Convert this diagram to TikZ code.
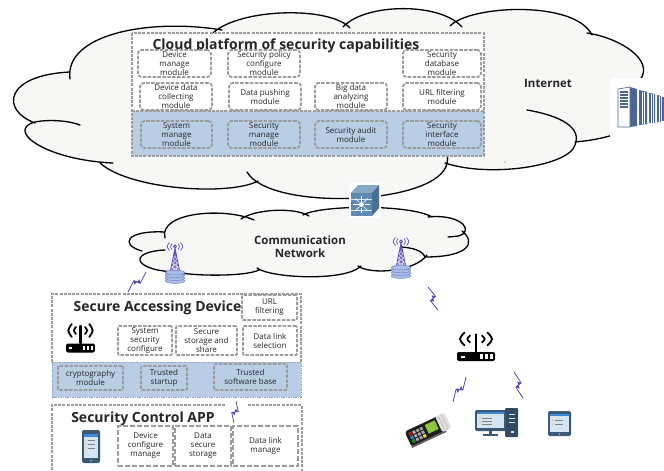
\documentclass[tikz,border=0pt]{standalone}
\usepackage{fontspec}
\setmainfont{Open Sans}
\usetikzlibrary{calc}

\definecolor{cloudfill}{HTML}{F7F7F5}
\definecolor{bandblue}{HTML}{B9CDE5}
\definecolor{bandedge}{HTML}{8FA7CC}
\definecolor{modgray}{HTML}{9C9C9C}
\definecolor{ink}{HTML}{262626}
\definecolor{towerpurple}{HTML}{5B4DB5}
\definecolor{diskblue}{HTML}{A9BDE8}
\definecolor{diskedge}{HTML}{6F82C2}
\definecolor{boltcol}{HTML}{5546B8}
\definecolor{serverblue}{HTML}{4B6693}
\definecolor{switchblue}{HTML}{5D89B3}
\definecolor{devframe}{HTML}{3B5875}
\definecolor{screenblue}{HTML}{D5E5F2}
\definecolor{barblue}{HTML}{3D8BD0}
\definecolor{posblack}{HTML}{1E1E1E}
\definecolor{posgreen}{HTML}{8CC63F}

\tikzset{
  cloudedge/.style={draw=black, line width=1.3pt, line cap=round},
  platbox/.style={draw=modgray, line width=1.5pt, dash pattern=on 3pt off 1.2pt},
  cmod/.style={draw=modgray, line width=1.8pt, dash pattern=on 3.5pt off 1.4pt,
    rounded corners=3.5pt, inner sep=0pt, align=center, text=ink,
    font=\fontsize{8}{9}\selectfont, minimum height=27pt},
  smod/.style={draw=modgray, line width=1.7pt, dash pattern=on 3.5pt off 1.4pt,
    rounded corners=1pt, inner sep=0pt, align=center, text=ink,
    font=\fontsize{8}{9}\selectfont},
  amod/.style={draw=modgray, line width=2.4pt, dash pattern=on 5pt off 2pt,
    inner sep=0pt, align=center, text=ink, font=\fontsize{8}{9}\selectfont},
  bigtitle/.style={font=\fontsize{14}{16}\selectfont\bfseries, text=ink, anchor=base, inner sep=0pt},
  midtitle/.style={font=\fontsize{11.5}{13}\selectfont\bfseries, text=ink, align=center, inner sep=0pt},
  boltline/.style={draw=boltcol, line width=0.8pt},
  pics/celltower/.style={code={
    \draw[towerpurple, line width=0.8pt] (0,3) -- (-5,28) (0,3) -- (5,28) (0,3) -- (0,28);
    \draw[towerpurple, line width=0.5pt] (-0.8,8) -- (1.6,12) -- (-2.3,16) -- (3,20) -- (-3.6,24) -- (4.3,28);
    \draw[towerpurple, line width=0.5pt] (0.8,8) -- (-1.6,12) -- (2.3,16) -- (-3,20) -- (3.6,24) -- (-4.3,28);
    \draw[towerpurple, line width=0.8pt] (0,1.5) circle (1.5);
    \draw[towerpurple, line width=0.7pt] (-3,-1.5) .. controls (-4.8,1.5) .. (-3,4.5);
    \draw[towerpurple, line width=0.7pt] (3,-1.5) .. controls (4.8,1.5) .. (3,4.5);
    \draw[towerpurple, line width=0.7pt] (-5.5,-2.5) .. controls (-8.5,1.5) .. (-5.5,5.5);
    \draw[towerpurple, line width=0.7pt] (5.5,-2.5) .. controls (8.5,1.5) .. (5.5,5.5);
    \foreach \dy in {36,33.2,30.4,27.6}
      \draw[diskedge, fill=diskblue, line width=0.45pt] (0,\dy) ellipse (9.8 and 2.4);
  }},
  pics/wifirouter/.style={code={
    \fill[black, rounded corners=2pt] (-19,-4.5) rectangle (19,4.5);
    \fill[white] (-15.5,-1) rectangle (-11.5,1);
    \foreach \u in {3.5,8.5,13.5} \fill[white] (\u,-2.2) rectangle (\u+3,2.2);
    \draw[line width=2.3pt, line cap=round] (0,-5) -- (0,-22);
    \draw[line width=1.8pt, line cap=round] (-6,-21) .. controls (-9.5,-17.5) .. (-6,-14);
    \draw[line width=1.8pt, line cap=round] (6,-21) .. controls (9.5,-17.5) .. (6,-14);
    \draw[line width=1.8pt, line cap=round] (-11.5,-24) .. controls (-17.5,-17.5) .. (-11.5,-11);
    \draw[line width=1.8pt, line cap=round] (11.5,-24) .. controls (17.5,-17.5) .. (11.5,-11);
  }}
}

% lightning link between two named coordinates
\newcommand\drawbolt[2]{%
  \draw[boltline] (#1) -- ($(#1)!0.46!(#2)!3.2pt!90:(#2)$) -- ($(#1)!0.54!(#2)!3.2pt!-90:(#2)$) -- (#2);
  \fill[boltcol] ($(#1)!0.36!(#2)$) -- ($(#1)!0.46!(#2)!3.2pt!90:(#2)$) -- ($(#1)!0.54!(#2)!3.2pt!-90:(#2)$) -- ($(#1)!0.64!(#2)$) -- cycle;
}

\begin{document}
\begin{tikzpicture}[x=1pt,y=-1pt]
\useasboundingbox (0,0) rectangle (664,471);
\fill[white] (0,0) rectangle (664,471);

% ---------- Internet cloud ----------
\fill[cloudfill] (70,75) .. controls (64,34) and (150,18) .. (220,30)
  -- (215,30) .. controls (240,8) and (330,6) .. (348,26)
  -- (345,25) .. controls (365,3) and (440,2) .. (459,25)
  -- (452,25) .. controls (470,5) and (575,0) .. (590,33)
  .. controls (620,38) and (655,60) .. (640,80)
  .. controls (668,95) and (655,135) .. (575,142)
  .. controls (572,165) and (490,178) .. (447,163)
  .. controls (440,205) and (270,212) .. (247,172)
  -- (258,181) .. controls (230,196) and (130,190) .. (100,163)
  -- (113,163) .. controls (45,160) and (5,130) .. (35,122)
  .. controls (0,110) and (5,75) .. (70,72) -- cycle;
\draw[cloudedge]
  (70,79) .. controls (64,34) and (150,18) .. (222,30)
  (213,33) .. controls (240,8) and (330,6) .. (350,28)
  (343,27) .. controls (365,3) and (440,2) .. (462,27)
  (450,26) .. controls (470,5) and (575,0) .. (592,35)
  (587,33) .. controls (620,38) and (655,60) .. (640,80)
  (641,79) .. controls (668,95) and (655,135) .. (575,142)
  (527,110) .. controls (562,116) and (582,128) .. (575,145)
            .. controls (569,166) and (490,178) .. (445,163)
  (446,153) .. controls (448,158) .. (447,163)
            .. controls (440,205) and (270,212) .. (247,172)
  (258,181) .. controls (230,196) and (130,190) .. (100,163)
  (113,163) .. controls (45,160) and (5,130) .. (35,122)
            .. controls (50,119) and (70,121) .. (80,125)
  (35,123) .. controls (0,110) and (5,75) .. (70,72);
\fill[black!70] (505,162) circle (0.6);
\node[midtitle] (inet) at (548,83) {Internet};

% ---------- server rack ----------
\fill[white] (610,78) rectangle (664,140);
\fill[serverblue] (630,87) -- (637,89) -- (637,126) -- (630,127) -- cycle;
\draw[serverblue, line width=0.6pt, fill=white] (618,89) -- (630,87) -- (630,127) -- (618,127) -- cycle;
\foreach \yy in {92,95,98,101,104,107}
  \draw[serverblue, line width=1.1pt] (620,\yy) -- (628,\yy);
\fill[serverblue] (639,90) -- (647,92) -- (647,124) -- (639,125) -- cycle;
\fill[serverblue] (649,93) -- (655,94) -- (655,123) -- (649,123) -- cycle;
\fill[serverblue] (657,95) -- (661,96) -- (661,122) -- (657,122) -- cycle;
\fill[serverblue] (662,97) -- (664,97) -- (664,121) -- (662,121) -- cycle;
\draw[white, line width=0.6pt] (642,92) -- (642,124) (644.5,92) -- (644.5,124)
  (651,94) -- (651,123) (653,94) -- (653,123) (659,96) -- (659,122);

% ---------- cloud platform ----------
\fill[white] (132,33) rectangle (484,111);
\fill[bandblue] (132,111) rectangle (484,156);
\draw[platbox] (132,33) rectangle (484,156);
\draw[platbox] (132,111) -- (484,111);
\node[bigtitle] (cptitle) at (286,49) {Cloud platform of security capabilities};

\node[cmod, fill=white, minimum width=73pt] (dmm)  at (174.5,63.5) {Device\\manage\\module};
\node[cmod, fill=white, minimum width=72pt] (spcm) at (264,63.5)   {Security policy\\configure\\module};
\node[cmod, fill=white, minimum width=78pt] (sdbm) at (442,63.5)   {Security\\database\\module};
\node[cmod, fill=white, minimum width=72pt] (ddcm) at (176,96.5)   {Device data\\collecting\\module};
\node[cmod, fill=white, minimum width=72pt] (dpm)  at (265,96.5)   {Data pushing\\module};
\node[cmod, fill=white, minimum width=72pt] (bdam) at (351,96.5)   {Big data\\analyzing\\module};
\node[cmod, fill=white, minimum width=78pt] (urlm) at (442,96.5)   {URL filtering\\module};
\node[cmod, minimum width=71pt] (smm)  at (176.5,134.5) {System\\manage\\module};
\node[cmod, minimum width=72pt] (secm) at (264,134.5)   {Security\\manage\\module};
\node[cmod, minimum width=72pt] (sam)  at (351,134.5)   {Security audit\\module};
\node[cmod, minimum width=78pt] (sim)  at (442,134.5)   {Security\\interface\\module};

% ---------- communication network cloud ----------
\fill[cloudfill] (165,238) .. controls (158,212) and (225,207) .. (254,220)
  -- (241,219) .. controls (255,209) and (295,207) .. (309,216)
  -- (303,215) .. controls (320,205) and (410,204) .. (432,217)
  -- (428,217) .. controls (455,214) and (472,226) .. (463,234)
  -- (462,231) .. controls (476,242) and (470,257) .. (425,257)
  -- (427,255) .. controls (415,272) and (370,275) .. (358,266)
  -- (361,266) .. controls (345,282) and (270,278) .. (257,268)
  -- (259,270) .. controls (245,277) and (190,276) .. (177,272)
  -- (180,272) .. controls (135,272) and (125,252) .. (165,250)
  -- (142,251) .. controls (120,245) and (125,230) .. (165,232) -- cycle;
\draw[cloudedge]
  (165,238) .. controls (158,212) and (225,207) .. (254,220)
  (241,219) .. controls (255,209) and (295,207) .. (309,216)
  (303,215) .. controls (320,205) and (410,204) .. (432,217)
  (428,217) .. controls (455,214) and (472,226) .. (463,234)
            .. controls (460,236) .. (448,237)
  (462,231) .. controls (476,242) and (470,257) .. (425,257)
            .. controls (422,250) and (412,248) .. (402,247)
  (427,255) .. controls (415,272) and (370,275) .. (358,266)
  (361,266) .. controls (345,282) and (270,278) .. (257,268)
  (259,270) .. controls (245,277) and (190,276) .. (177,272)
  (180,272) .. controls (135,272) and (125,252) .. (165,250)
  (142,251) .. controls (120,245) and (125,230) .. (165,232);
\node[midtitle] (commnet) at (300,247) {Communication\\Network};

% ---------- core switch ----------
\fill[white] (349,183) rectangle (381,218);
\fill[switchblue!75!white] (351,193) -- (358,185) -- (379,185) -- (372,193) -- cycle;
\fill[switchblue!80!black] (372,193) -- (379,185) -- (379,208) -- (372,216) -- cycle;
\fill[switchblue] (351,193) rectangle (372,216);
\draw[white!80!switchblue, line width=0.4pt] (351,199) -- (372,199) (351,210) -- (372,210);
\foreach \a in {0,45,...,315}
  \draw[white, line width=0.7pt] (361.5,204.5) ++(\a:3) -- ++(\a:5.5);
\fill[white] (361.5,204.5) circle (2.4);

% ---------- radio towers ----------
\pic (towerL) at (175,245) {celltower};
\pic (towerR) at (401,240) {celltower};

% ---------- secure accessing device ----------
\fill[white] (52,294) rectangle (301,362);
\fill[bandblue] (52,362) rectangle (301,397);
\draw[platbox] (52,362) -- (52,294) -- (301,294) -- (301,362);
\draw[draw=bandedge, line width=1pt, dash pattern=on 1.5pt off 0.9pt] (52,362) rectangle (301,397);
\node[bigtitle] (sadtitle) at (157.5,311) {Secure Accessing Device};
\pic[xscale=0.76] (sadrouter) at (80.5,348) {wifirouter};
\node[smod, fill=white, minimum width=55pt, minimum height=25pt] (sadurl) at (269.5,307.5) {URL\\filtering};
\node[smod, fill=white, minimum width=54pt, minimum height=29pt] (ssc) at (145,340.5) {System\\security\\configure};
\node[smod, fill=white, minimum width=61pt, minimum height=29pt] (sss) at (206.5,340.5) {Secure\\storage and\\share};
\node[smod, fill=white, minimum width=54pt, minimum height=29pt] (dls) at (270,340.5) {Data link\\selection};
\node[smod, minimum width=65pt, minimum height=24pt] (crypt) at (90.5,378) {cryptography\\module};
\node[smod, minimum width=46pt, minimum height=24pt] (tstart) at (164,378) {Trusted\\startup};
\node[smod, minimum width=73pt, minimum height=26pt] (tsb) at (250.5,377) {Trusted\\software base};

% ---------- security control app ----------
\draw[platbox] (225,405) -- (52,405) -- (52,475);
\draw[platbox] (248,405) -- (302,405) -- (302,475);
\node[bigtitle] (scatitle) at (143,422) {Security Control APP};
\node[amod, minimum width=55pt, minimum height=40pt] (dcm) at (145.5,446) {Device\\configure\\manage};
\node[amod, minimum width=56pt, minimum height=40pt] (dss) at (203,446) {Data\\secure\\storage};
\node[amod, minimum width=65pt, minimum height=40pt] (dlm) at (265.5,446) {Data link\\manage};
% phone
\fill[devframe, rounded corners=2pt] (82,430) rectangle (100,463);
\fill[screenblue] (84,434) rectangle (98,458);
\fill[barblue] (84,434) rectangle (98,436.5);
\foreach \yy in {440,444,448} {
  \fill[orange!80] (86,\yy) circle (0.7);
  \draw[gray, line width=0.5pt] (88,\yy) -- (95,\yy);
}
\fill[screenblue!60!devframe] (91,460.5) circle (1);

% ---------- user side router and terminals ----------
\pic (userrouter) at (476,356.5) {wifirouter};

% POS terminal
\begin{scope}[shift={(427,430)}, rotate=25]
  \fill[posblack!70] (-21,4) rectangle (17,10);
  \fill[posblack, rounded corners=3pt] (-21,-8) rectangle (17,8);
  \fill[gray!25, rounded corners=2pt] (13,-8.5) rectangle (23,8.5);
  \draw[gray!60, line width=0.4pt] (16,-8) -- (16,8) (19.5,-8) -- (19.5,8);
  \fill[posgreen] (0,-5.5) rectangle (11,4);
  \foreach \i in {0,...,3}
    \foreach \j in {0,...,2}
      \fill[gray!65] (-18+\i*4,-5+\j*4) rectangle ++(2.8,2.8);
  \fill[red!85!black] (-18,-5) rectangle ++(2.8,2.8);
  \fill[cyan!70!blue] (-18,-1) rectangle ++(2.8,2.8);
  \fill[green!60!black] (-18,3) rectangle ++(2.8,2.8);
  \fill[yellow!80!orange] (-6,3) rectangle ++(2.8,2.8);
\end{scope}

% desktop computer
\fill[devframe!85!black, rounded corners=1pt] (505,408) rectangle (518,437);
\draw[screenblue, line width=0.6pt] (509,414) -- (515,414) (509,418) -- (515,418) (509,422) -- (515,422);
\fill[screenblue] (510.5,431) rectangle (513.5,433);
\fill[devframe, rounded corners=1.5pt] (475,410) rectangle (506,431);
\fill[screenblue] (477,412) rectangle (504,428);
\fill[barblue] (477,412) rectangle (504,414);
\foreach \yy in {418,421,424} {
  \fill[orange!80] (480,\yy) circle (0.6);
  \draw[gray, line width=0.5pt] (482,\yy) -- (492,\yy);
}
\fill[devframe] (489,431) rectangle (492,434);
\fill[devframe] (483,434) rectangle (498,436);

% tablet
\fill[devframe, rounded corners=2pt] (548,411) rectangle (571,436);
\fill[screenblue] (550,414) rectangle (569,432);
\fill[barblue] (550,414) rectangle (569,416);
\foreach \yy in {420,424} {
  \fill[orange!80] (552.5,\yy) circle (0.6);
  \draw[gray, line width=0.5pt] (554.5,\yy) -- (563,\yy);
}
\fill[screenblue!60!devframe] (559.5,434) circle (0.8);

% ---------- radio links ----------
\coordinate (l1a) at (146,272); \coordinate (l1b) at (128,292);
\coordinate (l2a) at (428,287); \coordinate (l2b) at (438,310);
\coordinate (l3a) at (466,377); \coordinate (l3b) at (453,402);
\coordinate (l4a) at (514,372); \coordinate (l4b) at (523,398);
\coordinate (l5a) at (236,401); \coordinate (l5b) at (234,423);
\drawbolt{l1a}{l1b}
\drawbolt{l2a}{l2b}
\drawbolt{l3a}{l3b}
\drawbolt{l4a}{l4b}
\drawbolt{l5a}{l5b}
\end{tikzpicture}
\end{document}
